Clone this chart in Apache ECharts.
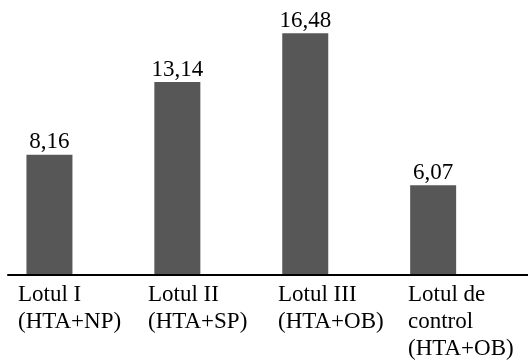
<!DOCTYPE html>
<html>
<head>
<meta charset="utf-8">
<script src="https://cdn.jsdelivr.net/npm/echarts@6/dist/echarts.min.js"></script>
<style>
  html, body { margin: 0; padding: 0; background: #ffffff; }
  #chart { width: 528px; height: 362px; }
</style>
</head>
<body>
<div id="chart"></div>
<script>
// Group names (multi-line) and the mean value for each group
const categories = [
  'Lotul I\n(HTA+NP)',
  'Lotul II\n(HTA+SP)',
  'Lotul III\n(HTA+OB)',
  'Lotul de\ncontrol\n(HTA+OB)'
];
const values = [8.16, 13.14, 16.48, 6.07];

const FONT = 'Liberation Serif';
const BAR_COLOR = '#575757';

const chart = echarts.init(document.getElementById('chart'), null, { renderer: 'canvas' });

chart.setOption({
  backgroundColor: '#ffffff',
  animation: false,
  grid: [
    // bars
    { left: -14.5, width: 511.6, top: 11, bottom: 88, outerBoundsMode: 'none', containLabel: false },
    // baseline and group names across the full width
    { left: 8, right: 0, top: 11, bottom: 87, outerBoundsMode: 'none', containLabel: false }
  ],
  xAxis: [
    {
      type: 'category',
      gridIndex: 0,
      data: categories,
      axisLine: { show: false },
      axisTick: { show: false },
      axisLabel: { show: false }
    },
    {
      type: 'category',
      gridIndex: 1,
      data: categories,
      axisLine: { show: true, lineStyle: { color: '#000000', width: 2 } },
      axisTick: { show: false },
      axisLabel: {
        show: true,
        interval: 0,
        align: 'left',
        verticalAlign: 'top',
        margin: 6,
        padding: [0, 0, 0, -55],
        color: '#000000',
        fontFamily: FONT,
        fontSize: 23,
        lineHeight: 27
      }
    }
  ],
  yAxis: [
    { type: 'value', gridIndex: 0, min: 0, max: 18, show: false },
    { type: 'value', gridIndex: 1, min: 0, max: 18, show: false }
  ],
  series: [
    {
      type: 'bar',
      xAxisIndex: 0,
      yAxisIndex: 0,
      data: values,
      barWidth: 46,
      itemStyle: { color: BAR_COLOR },
      label: {
        show: true,
        position: 'top',
        distance: 1,
        color: '#000000',
        fontFamily: FONT,
        fontSize: 23,
        formatter: p => p.value.toFixed(2).replace('.', ',')
      }
    }
  ]
});
</script>
</body>
</html>
